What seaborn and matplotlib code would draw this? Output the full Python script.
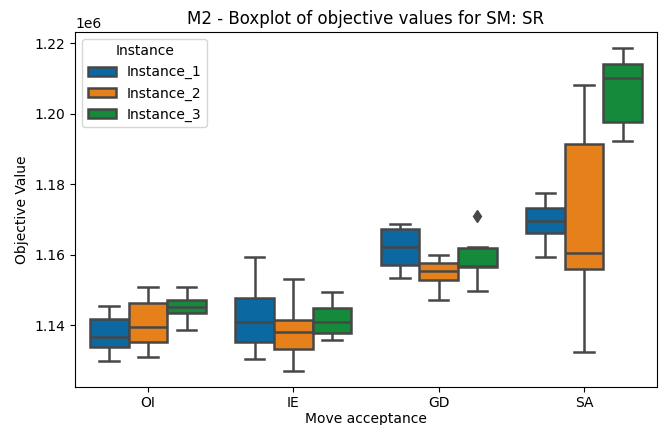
import pandas as pd
import seaborn as sns
import matplotlib.pyplot as plt

categories = ["OI", "IE", "GD", "SA"]
instances = ["Instance_1", "Instance_2", "Instance_3"]
colors = ["#0b68a1", "#e5801b", "#158a3a"]

# objective values per move acceptance / instance
oi_1 = [1129800, 1133800, 1136800, 1141900, 1145600]
oi_2 = [1131200, 1135300, 1139600, 1146300, 1150900]
oi_3 = [1138700, 1143500, 1145300, 1147100, 1150900]
ie_1 = [1130600, 1135300, 1140900, 1147900, 1159400]
ie_2 = [1127200, 1133200, 1138200, 1141600, 1153100]
ie_3 = [1135900, 1137800, 1141100, 1145100, 1149400]
gd_1 = [1153400, 1157100, 1162300, 1167500, 1168700]
gd_2 = [1147200, 1152800, 1155400, 1157800, 1160100]
gd_3 = [1149700, 1154000, 1156600, 1156800, 1157000, 1159500, 1161900, 1162300, 1171100]
sa_1 = [1159400, 1166200, 1169500, 1173300, 1177500]
sa_2 = [1132600, 1156100, 1160500, 1191400, 1208300]
sa_3 = [1192400, 1197700, 1210200, 1214100, 1218700]

groups = {
    ("OI", "Instance_1"): oi_1, ("OI", "Instance_2"): oi_2, ("OI", "Instance_3"): oi_3,
    ("IE", "Instance_1"): ie_1, ("IE", "Instance_2"): ie_2, ("IE", "Instance_3"): ie_3,
    ("GD", "Instance_1"): gd_1, ("GD", "Instance_2"): gd_2, ("GD", "Instance_3"): gd_3,
    ("SA", "Instance_1"): sa_1, ("SA", "Instance_2"): sa_2, ("SA", "Instance_3"): sa_3,
}
rows = []
for (cat, inst), vals in groups.items():
    for v in vals:
        rows.append({"Move acceptance": cat, "Instance": inst, "Objective Value": v})
df = pd.DataFrame(rows)

fig, ax = plt.subplots(figsize=(6.66, 4.25), dpi=100)
sns.boxplot(data=df, x="Move acceptance", y="Objective Value", hue="Instance",
            order=categories, hue_order=instances, palette=colors, saturation=1,
            linecolor="#474747", linewidth=1.8, ax=ax,
            flierprops=dict(marker="d", markerfacecolor="#474747", markeredgecolor="#474747", markersize=6))
ax.set_title("M2 - Boxplot of objective values for SM: SR")
ax.set_xlabel("Move acceptance", labelpad=1)
ax.legend(title="Instance", loc="upper left")
fig.subplots_adjust(left=0.113, right=0.986, top=0.925, bottom=0.09)
plt.savefig("out.png", dpi=100)
